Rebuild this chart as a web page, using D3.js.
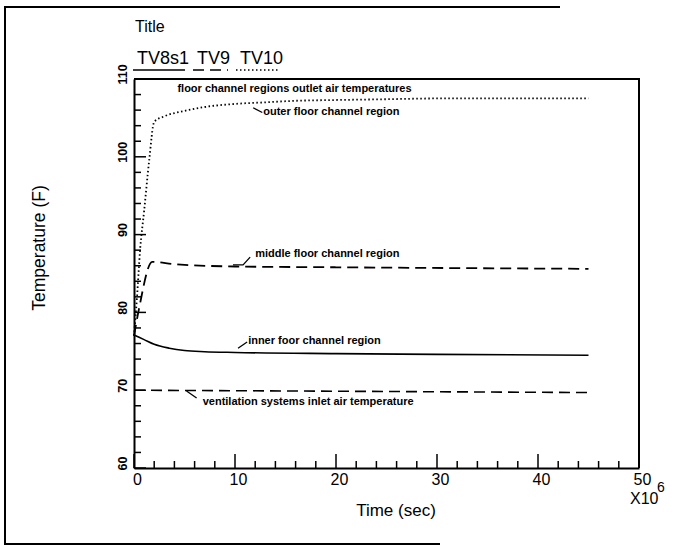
<!DOCTYPE html>
<html>
<head>
<meta charset="utf-8">
<script src="https://cdn.jsdelivr.net/npm/d3@7"></script>
<style>
  body { margin: 0; background: #fff; }
  svg { display: block; font-family: "Liberation Sans", Arial, sans-serif; }
  .ann { font-size: 11px; font-weight: bold; }
</style>
</head>
<body>
<svg id="chart" width="696" height="547"></svg>
<script>
// time in units of 1e6 sec, temperature in F
const outerT = [0, 0.3, 0.6, 1.0, 1.5, 2.0, 3, 5, 7, 10, 13, 16, 20, 25, 30, 45];
const outerV = [77, 82, 88, 93, 99.5, 104.5, 105.2, 105.9, 106.4, 106.8, 107.0, 107.2, 107.3, 107.4, 107.5, 107.5];

const middleT = [0, 0.5, 1.8, 4, 10, 20, 45];
const middleV = [77, 80.5, 86.5, 86.2, 85.9, 85.8, 85.6];

const innerT = [0, 1, 2, 3.5, 5, 7, 10, 20, 30, 45];
const innerV = [77.1, 76.5, 75.9, 75.4, 75.1, 74.95, 74.85, 74.7, 74.6, 74.5];

const inletT = [0, 45];
const inletV = [70, 69.7];

const legendNames = ["TV8s1", "TV9", "TV10"];
const xTicks = [0, 10, 20, 30, 40, 50];
const yTicks = [60, 70, 80, 90, 100, 110];

const labels = [
    { text: "floor channel regions outlet air temperatures", t: 4.3, v: 108.8, lead: [] },
    { text: "outer floor channel region", t: 12.8, v: 105.9, lead: [[11.8, 106.3], [12.7, 105.7]] },
    { text: "middle floor channel region", t: 12.0, v: 87.6, lead: [[9.8, 86.1], [10.8, 86.1], [11.5, 87.1]] },
    { text: "inner foor channel region", t: 11.3, v: 76.45, lead: [[10.3, 75.4], [11.2, 76.2]] },
    { text: "ventilation systems inlet air temperature", t: 6.8, v: 68.6, lead: [[5.2, 69.9], [6.2, 69.0]] }
];

const svg = d3.select("#chart");

const x = d3.scaleLinear().domain([0, 50]).range([134, 639]);
const y = d3.scaleLinear().domain([60, 110]).range([468, 79]);

// page border (scanned sheet edges)
svg.append("path")
    .attr("d", "M560,7H5V544H440")
    .attr("fill", "none")
    .attr("stroke", "#000")
    .attr("stroke-width", 2);

// plot frame top & right
svg.append("path")
    .attr("d", "M" + x(0) + "," + y(110) + "H" + x(50) + "V" + y(60))
    .attr("fill", "none")
    .attr("stroke", "#000")
    .attr("stroke-width", 2);

// inward ticks, majors every 10, minors every 2
const xMinor = d3.range(0, 51, 2);
const yMinor = d3.range(60, 111, 2);

svg.append("g").selectAll("line")
    .data(xMinor)
    .join("line")
    .attr("x1", d => x(d)).attr("x2", d => x(d))
    .attr("y1", y(60))
    .attr("y2", d => y(60) - (d % 10 === 0 ? 14 : 7))
    .attr("stroke", "#000")
    .attr("stroke-width", 1.5);

svg.append("g").selectAll("line")
    .data(yMinor)
    .join("line")
    .attr("y1", d => y(d)).attr("y2", d => y(d))
    .attr("x1", x(0))
    .attr("x2", d => x(0) + (d % 10 === 0 ? 12 : 7))
    .attr("stroke", "#000")
    .attr("stroke-width", 1.5);

// x axis line + labels
const xa = svg.append("g")
    .attr("transform", "translate(0," + y(60) + ")")
    .call(d3.axisBottom(x).tickValues(xTicks).tickSize(0).tickSizeOuter(0));
xa.select(".domain").attr("stroke", "#000").attr("stroke-width", 2);
xa.selectAll("text")
    .attr("y", 17)
    .attr("dy", 0)
    .attr("dx", 3)
    .attr("font-size", 16)
    .attr("font-family", "Liberation Sans, Arial, sans-serif")
    .attr("fill", "#000");

// y axis line + labels
const ya = svg.append("g")
    .attr("transform", "translate(" + x(0) + ",0)")
    .call(d3.axisLeft(y).tickValues(yTicks).tickSize(0).tickSizeOuter(0));
ya.select(".domain").attr("stroke", "#000").attr("stroke-width", 2);
ya.selectAll("text")
    .attr("transform", "rotate(-90)")
    .attr("x", 5)
    .attr("y", -7)
    .attr("dy", 0)
    .attr("text-anchor", "middle")
    .attr("font-size", 12.5)
    .attr("font-weight", "bold")
    .attr("font-family", "Liberation Sans, Arial, sans-serif")
    .attr("fill", "#000");

// exponent note
svg.append("text").attr("x", 630).attr("y", 504).attr("font-size", 16).text("X10");
svg.append("text").attr("x", 657).attr("y", 492).attr("font-size", 14).text("6");

// axis titles
svg.append("text")
    .attr("x", 396).attr("y", 516)
    .attr("text-anchor", "middle")
    .attr("font-size", 17)
    .text("Time (sec)");

svg.append("text")
    .attr("transform", "translate(45,248) rotate(-90)")
    .attr("text-anchor", "middle")
    .attr("font-size", 17.5)
    .text("Temperature (F)");

// title & legend
svg.append("text").attr("x", 135).attr("y", 32).attr("font-size", 16).text("Title");

const dashes = [null, "11,6", "1.5,2.5"];
const legendX = [[133, 185], [193, 228], [236, 280]];
legendNames.forEach((name, i) => {
    svg.append("text")
        .attr("x", legendX[i][0] + 4)
        .attr("y", 64)
        .attr("font-size", 18)
        .text(name);
    svg.append("line")
        .attr("x1", legendX[i][0]).attr("x2", legendX[i][1])
        .attr("y1", 70).attr("y2", 70)
        .attr("stroke", "#000")
        .attr("stroke-width", 1.6)
        .attr("stroke-dasharray", dashes[i]);
});

// curves
const line = d3.line()
    .x(d => x(d[0]))
    .y(d => y(d[1]))
    .curve(d3.curveMonotoneX);

const series = [
    { t: innerT, v: innerV, dash: null, w: 1.6 },
    { t: middleT, v: middleV, dash: "11,6", w: 1.8 },
    { t: outerT, v: outerV, dash: "1.5,2.5", w: 1.8 },
    { t: inletT, v: inletV, dash: "11,6", w: 1.6 }
];

series.forEach(s => {
    svg.append("path")
        .datum(d3.zip(s.t, s.v))
        .attr("d", line)
        .attr("fill", "none")
        .attr("stroke", "#000")
        .attr("stroke-width", s.w)
        .attr("stroke-dasharray", s.dash);
});

// annotations
const lead = d3.line().x(d => x(d[0])).y(d => y(d[1]));
labels.forEach(a => {
    svg.append("text")
        .attr("class", "ann")
        .attr("x", x(a.t))
        .attr("y", y(a.v))
        .attr("dy", "0.35em")
        .text(a.text);
    if (a.lead.length) {
        svg.append("path")
            .attr("d", lead(a.lead))
            .attr("fill", "none")
            .attr("stroke", "#000")
            .attr("stroke-width", 1.3);
    }
});
</script>
</body>
</html>
